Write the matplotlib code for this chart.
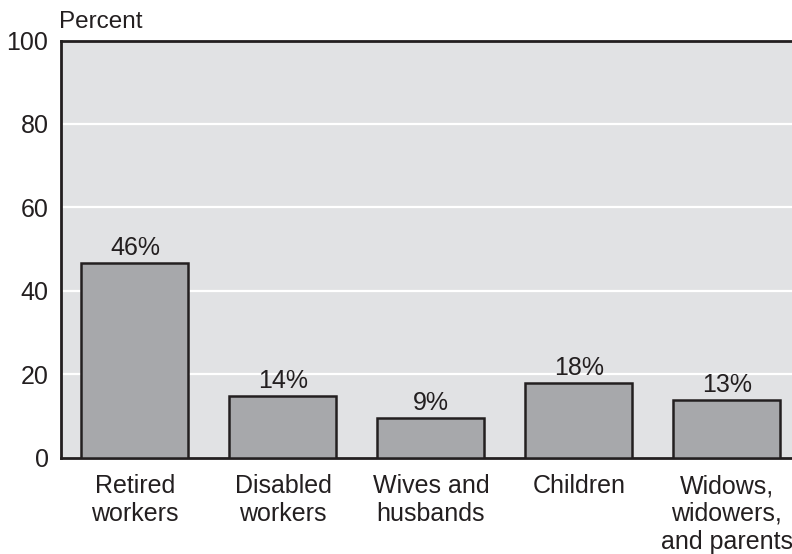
import matplotlib
matplotlib.use("Agg")
import matplotlib.pyplot as plt

categories = ["Retired\nworkers", "Disabled\nworkers", "Wives and\nhusbands", "Children",
              "Widows,\nwidowers,\nand parents"]
values = [46.6, 14.8, 9.4, 17.8, 13.9]
value_labels = ["46%", "14%", "9%", "18%", "13%"]
yticks = [0, 20, 40, 60, 80, 100]

plt.rcParams['font.family'] = ['Liberation Sans', 'DejaVu Sans']
text_color = "#231f20"
fs = 18

fig = plt.figure(figsize=(7.92, 5.54), dpi=100)
W, H = 792, 554
left, right, top, bottom = 61, 792, 40.5, 457.5
ax = fig.add_axes([left / W, 1 - bottom / H, (right - left) / W, (bottom - top) / H])
ax.set_facecolor("#e1e2e4")

x = list(range(len(categories)))
bars = ax.bar(x, values, width=0.723, color="#a7a8ab", edgecolor="#231f20",
              linewidth=1.8, zorder=3)
for xi, v, lab in zip(x, values, value_labels):
    ax.text(xi, v + 0.7, lab, ha="center", va="bottom", fontsize=fs, color=text_color, zorder=4)

ax.set_xlim(-0.5, 4.44)
ax.set_ylim(0, 100)
ax.set_yticks(yticks)
ax.set_yticklabels([str(t) for t in yticks], fontsize=fs, color=text_color)
ax.set_xticks(x)
ax.set_xticklabels(categories, fontsize=fs, color=text_color, linespacing=1.2)
ax.tick_params(axis="both", length=0)
ax.tick_params(axis="y", pad=9)
ax.tick_params(axis="x", pad=12)
ax.grid(axis="y", color="white", linewidth=1.6, zorder=1)
ax.set_axisbelow(True)

for s in ["left", "bottom", "top"]:
    ax.spines[s].set_color("#231f20")
    ax.spines[s].set_linewidth(2.0)
ax.spines["right"].set_visible(False)

fig.text(59 / W, 1 - 28 / H, "Percent", fontsize=17.5, color=text_color, ha="left", va="baseline")

fig.savefig("out.png", dpi=100)
